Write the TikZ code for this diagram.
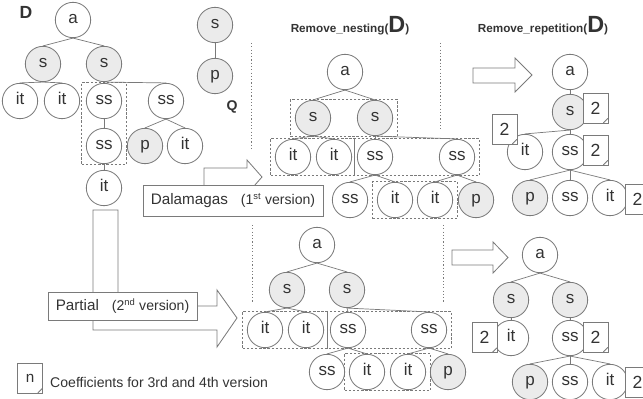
\documentclass[tikz,border=0pt]{standalone}
\usepackage{fontspec}
\setmainfont{Liberation Sans}
\usetikzlibrary{positioning,fit,calc}
\definecolor{ink}{HTML}{333333}
\definecolor{rim}{HTML}{7A7A7A}
\definecolor{shade}{HTML}{EBEBEB}

\tikzset{
  tn/.style={circle, draw=rim, line width=0.7pt, fill=white, minimum size=1.06cm,
    inner sep=0pt, text=ink, font=\fontsize{14.5}{16}\selectfont,
    text height=1.55ex, text depth=0.3ex},
  gn/.style={tn, fill=shade},
  coef/.style={rectangle, draw=rim, line width=0.7pt, fill=white, minimum width=0.75cm,
    minimum height=0.9cm, inner sep=0pt, text=ink, font=\fontsize{15}{16}\selectfont,
    path picture={\draw[rim, line width=0.7pt]
      ([xshift=-4pt]path picture bounding box.south east) --
      ([yshift=4pt]path picture bounding box.south east);}},
  branch/.style={draw=rim, line width=0.6pt},
  grp/.style={rectangle, draw=rim, line width=0.6pt, dash pattern=on 2pt off 1.5pt,
    inner xsep=3.5pt, inner ysep=0.5pt},
  sep/.style={draw=rim, line width=0.6pt, dash pattern=on 1pt off 1.8pt},
  blockarr/.style={draw=rim, fill=white, line width=0.7pt, line join=miter},
  tagbox/.style={rectangle, draw=rim, fill=white, line width=0.7pt, inner sep=0pt, text=ink},
  title/.style={anchor=base, text=ink, font=\bfseries\fontsize{10}{12}\selectfont},
}

\begin{document}
\begin{tikzpicture}[x=0.03cm, y=-0.03cm]
  \useasboundingbox (0,0) rectangle (643,399);

  \draw[sep] (251,43) -- (251,150);
  \draw[sep] (440,43) -- (440,130);
  \draw[sep] (252,225) -- (252,302);
  \draw[sep] (443,225) -- (443,302);

  \node[title] (nTitle) at (350,33) {Remove\_nesting({\fontsize{20}{20}\selectfont D})};
  \node[title] (rTitle) at (543,33) {Remove\_repetition({\fontsize{20}{20}\selectfont D})};

  % D
  \node[text=ink, font=\bfseries\fontsize{15}{16}\selectfont] (dLab) at (26,12) {D};
  \node[tn] (dA) at (73,20) {a};
  \node[gn] (dS1) at (43,64) {s};
  \node[gn] (dS2) at (104,64) {s};
  \node[tn] (dIt1) at (20,101) {it};
  \node[tn] (dIt2) at (62,101) {it};
  \node[tn] (dSs1) at (104,101) {ss};
  \node[tn] (dSs2) at (166,101) {ss};
  \node[tn] (dSs3) at (104,146) {ss};
  \node[gn] (dP) at (145,146) {p};
  \node[tn] (dIt3) at (185,146) {it};
  \node[tn] (dIt4) at (104,188) {it};
  \node[grp, fit=(dSs1)(dSs3)] (dBox) {};
  \foreach \p/\c in {dA/dS1, dA/dS2, dS1/dIt1, dS1/dIt2, dS2/dSs1, dS2/dSs2,
                     dSs1/dSs3, dSs3/dIt4, dSs2/dP, dSs2/dIt3}
    \draw[branch] (\p.south) -- (\c.north);

  % Q
  \node[gn] (qS) at (215,25) {s};
  \node[gn] (qP) at (215,76) {p};
  \node[text=ink, font=\bfseries\fontsize{12}{14}\selectfont] (qLab) at (232,107) {Q};
  \draw[branch] (qS.south) -- (qP.north);

  % Remove_nesting, 1st version
  \node[tn] (nA) at (345,72) {a};
  \node[gn] (nS1) at (313,118) {s};
  \node[gn] (nS2) at (375,118) {s};
  \node[tn] (nIt1) at (293,157) {it};
  \node[tn] (nIt2) at (334,157) {it};
  \node[tn] (nSs1) at (375,157) {ss};
  \node[tn] (nSs2) at (457,157) {ss};
  \node[tn] (nSs3) at (350,200) {ss};
  \node[tn] (nIt3) at (395,200) {it};
  \node[tn] (nIt4) at (435,200) {it};
  \node[gn] (nP) at (476,200) {p};
  \node[grp, fit=(nS1)(nS2)] (nTop) {};
  \node[grp, fit=(nIt1)(nSs2)] (nRow) {};
  \node[grp, fit=(nIt3)(nIt4)] (nLow) {};
  \coordinate (nMid) at ($(nIt2.east)!0.5!(nSs1.west)$);
  \draw[branch] (nMid |- nRow.north) -- (nMid |- nRow.south);
  \foreach \p/\c in {nA/nS1, nA/nS2, nS1/nIt1, nS1/nIt2, nS2/nSs1, nS2/nSs2,
                     nSs1/nSs3, nSs1/nIt3, nSs2/nIt4, nSs2/nP}
    \draw[branch] (\p.south) -- (\c.north);

  % Remove_repetition, 1st version
  \draw[blockarr] (473,68) -- (515,68) -- (515,58) -- (532,75) -- (515,92) -- (515,83) -- (473,83) -- cycle;
  \node[tn] (rA) at (570,72) {a};
  \node[gn] (rS) at (570,112) {s};
  \node[tn] (rIt) at (525,152) {it};
  \node[tn] (rSs) at (570,152) {ss};
  \node[gn] (rP) at (530,198) {p};
  \node[tn] (rSs2) at (570,198) {ss};
  \node[tn] (rIt2) at (610,198) {it};
  \foreach \p/\c in {rA/rS, rS/rIt, rS/rSs, rSs/rP, rSs/rSs2, rSs/rIt2}
    \draw[branch] (\p.south) -- (\c.north);
  \node[coef] (rcS) at (595.5,108) {2};
  \node[coef] (rcIt) at (504.5,129) {2};
  \node[coef] (rcSs) at (595.5,150) {2};
  \node[coef] (rcIt2) at (637.5,199) {2};

  % Remove_nesting, 2nd version
  \node[tn] (pA) at (317,245) {a};
  \node[gn] (pS1) at (287,290) {s};
  \node[gn] (pS2) at (347,290) {s};
  \node[tn] (pIt1) at (265,330) {it};
  \node[tn] (pIt2) at (306,330) {it};
  \node[tn] (pSs1) at (348,330) {ss};
  \node[tn] (pSs2) at (429,330) {ss};
  \node[tn] (pSs3) at (327,372) {ss};
  \node[tn] (pIt3) at (367,372) {it};
  \node[tn] (pIt4) at (408,372) {it};
  \node[gn] (pP) at (448,372) {p};
  \node[grp, fit=(pIt1)(pSs2)] (pRow) {};
  \node[grp, fit=(pIt3)(pIt4)] (pLow) {};
  \coordinate (pMid) at ($(pIt2.east)!0.5!(pSs1.west)$);
  \draw[branch] (pMid |- pRow.north) -- (pMid |- pRow.south);
  \foreach \p/\c in {pA/pS1, pA/pS2, pS1/pIt1, pS1/pIt2, pS2/pSs1, pS2/pSs2,
                     pSs1/pSs3, pSs1/pIt3, pSs2/pIt4, pSs2/pP}
    \draw[branch] (\p.south) -- (\c.north);

  % Remove_repetition, 2nd version
  \draw[blockarr] (452,250) -- (493,250) -- (493,242) -- (508,257.5) -- (493,273) -- (493,265) -- (452,265) -- cycle;
  \node[tn] (bA) at (540,255) {a};
  \node[gn] (bS1) at (511,300) {s};
  \node[gn] (bS2) at (570,300) {s};
  \node[tn] (bIt) at (511,338) {it};
  \node[tn] (bSs) at (570,338) {ss};
  \node[gn] (bP) at (530,382) {p};
  \node[tn] (bSs2) at (570,382) {ss};
  \node[tn] (bIt2) at (610,382) {it};
  \foreach \p/\c in {bA/bS1, bA/bS2, bS1/bIt, bS2/bSs, bSs/bP, bSs/bSs2, bSs/bIt2}
    \draw[branch] (\p.south) -- (\c.north);
  \node[coef] (bcIt) at (484.5,337.5) {2};
  \node[coef] (bcSs) at (595.5,337) {2};
  \node[coef] (bcIt2) at (637.5,382) {2};

  % versions
  \draw[blockarr] (204,168) -- (247,168) -- (247,160) -- (262,177) -- (247,194) -- (247,186) -- (204,186) -- cycle;
  \node[tagbox, minimum width=5.4cm, minimum height=0.93cm] (dal) at (233,200.5)
    {\fontsize{13}{15}\selectfont Dalamagas\hspace{11pt}\fontsize{12}{14}\selectfont(1\textsuperscript{st} version)};
  \draw[blockarr] (93,210) -- (118,210) -- (118,306) -- (217,306) -- (217,290) -- (237,318)
    -- (217,347) -- (217,330) -- (93,330) -- cycle;
  \node[tagbox, minimum width=4.47cm, minimum height=0.84cm] (par) at (122.5,306)
    {\fontsize{13}{15}\selectfont Partial\hspace{11pt}\fontsize{12}{14}\selectfont(2\textsuperscript{nd} version)};

  % legend
  \node[coef, font=\fontsize{13}{15}\selectfont] (legN) at (30,378) {n};
  \node[anchor=west, text=ink, font=\fontsize{12}{14}\selectfont, inner sep=0pt] (legT) at (50,382)
    {Coefficients for 3rd and 4th version};
\end{tikzpicture}
\end{document}
